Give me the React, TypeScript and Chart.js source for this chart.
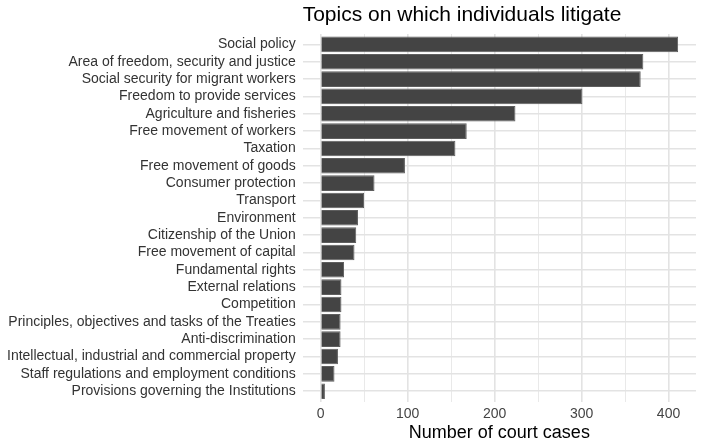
import React, { useEffect, useRef } from "react";
import { Chart, registerables } from "chart.js";

Chart.register(...registerables);

const categories: string[] = [
  "Social policy",
  "Area of freedom, security and justice",
  "Social security for migrant workers",
  "Freedom to provide services",
  "Agriculture and fisheries",
  "Free movement of workers",
  "Taxation",
  "Free movement of goods",
  "Consumer protection",
  "Transport",
  "Environment",
  "Citizenship of the Union",
  "Free movement of capital",
  "Fundamental rights",
  "External relations",
  "Competition",
  "Principles, objectives and tasks of the Treaties",
  "Anti-discrimination",
  "Intellectual, industrial and commercial property",
  "Staff regulations and employment conditions",
  "Provisions governing the Institutions",
];

const values: number[] = [411, 371, 368, 301, 224, 168, 155, 97, 62, 50, 43, 41, 39, 27, 24, 24, 23, 23, 20, 16, 5];

const xTicks: number[] = [0, 50, 100, 150, 200, 250, 300, 350, 400];

const titleText = "Topics on which individuals litigate";
const xTitle = "Number of court cases";

const FONT = '"Liberation Sans", Arial, Helvetica, sans-serif';

export default function App() {
  const ref = useRef<HTMLCanvasElement>(null);

  useEffect(() => {
    document.body.style.margin = "0";
    const canvas = ref.current;
    if (!canvas) return;

    const maxVal = Math.max(...values);
    const xMin = -maxVal * 0.05;
    const xMax = maxVal * 1.05;

    const titlePlugin = {
      id: "leftTitle",
      afterDraw(chart: any) {
        const { ctx, chartArea } = chart;
        ctx.save();
        ctx.font = `21px ${FONT}`;
        ctx.fillStyle = "#000000";
        ctx.textAlign = "left";
        ctx.textBaseline = "middle";
        ctx.fillText(titleText, chartArea.left, 15);
        ctx.restore();
      },
    };

    const chart = new Chart(canvas, {
      type: "bar",
      data: {
        datasets: [
          {
            data: values.map((v, i) => ({ x: v, y: i })),
            backgroundColor: "#444444",
            borderColor: "#5e5e5e",
            borderWidth: 1,
            barPercentage: 0.9,
            categoryPercentage: 1,
          },
        ],
      },
      options: {
        indexAxis: "y",
        animation: false,
        responsive: false,
        maintainAspectRatio: false,
        layout: { padding: { top: 34, left: 0, right: 5, bottom: 1 } },
        plugins: {
          legend: { display: false },
          tooltip: { enabled: false },
          title: { display: false },
        },
        scales: {
          x: {
            type: "linear",
            min: xMin,
            max: xMax,
            offset: false,
            afterBuildTicks: (scale: any) => {
              scale.ticks = xTicks.map((v) => ({ value: v }));
            },
            ticks: {
              color: "#444444",
              font: { family: FONT, size: 14 },
              padding: 4.5,
              maxRotation: 0,
              callback: (v: any) => (Number(v) % 100 === 0 ? String(v) : ""),
            },
            grid: {
              color: "#e3e3e3",
              lineWidth: (c: any) => (c.tick && c.tick.value % 100 === 0 ? 1.6 : 0.8),
              drawTicks: false,
              offset: false,
            },
            border: { display: false },
            title: {
              display: true,
              text: xTitle,
              color: "#000000",
              font: { family: FONT, size: 18 },
              padding: { top: -5, bottom: 0 },
            },
          },
          y: {
            type: "linear",
            reverse: true,
            offset: false,
            min: -0.6,
            max: categories.length - 1 + 0.6,
            afterBuildTicks: (scale: any) => {
              scale.ticks = categories.map((_, i) => ({ value: i }));
            },
            ticks: {
              color: "#333333",
              font: { family: FONT, size: 14 },
              padding: 7,
              autoSkip: false,
              callback: (v: any) => categories[Math.round(Number(v))] ?? "",
            },
            grid: {
              color: "#e3e3e3",
              lineWidth: 1.6,
              drawTicks: false,
              offset: false,
            },
            border: { display: false },
          },
        },
      },
      plugins: [titlePlugin],
    } as any);

    return () => chart.destroy();
  }, []);

  return (
    <div style={{ width: 701, height: 445 }}>
      <canvas ref={ref} width={701} height={445} style={{ display: "block" }} />
    </div>
  );
}
